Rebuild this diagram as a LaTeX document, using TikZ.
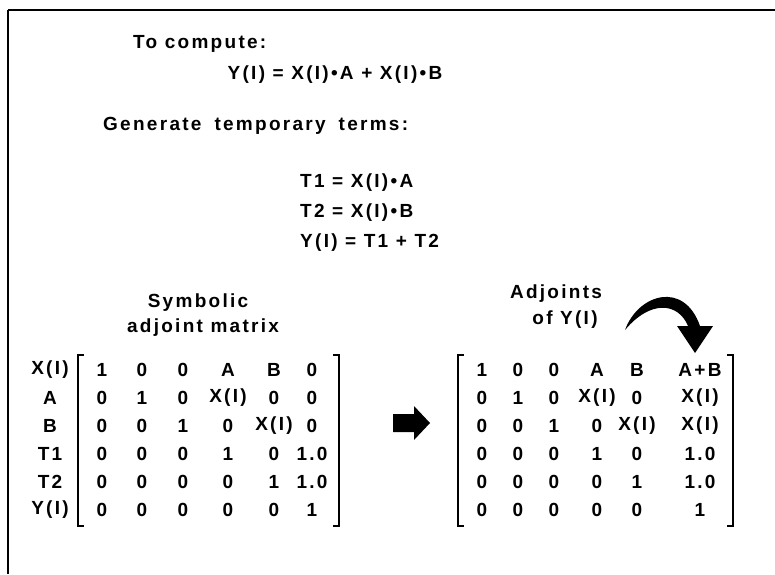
\documentclass[tikz,border=0pt]{standalone}
\usepackage{fontspec}
\setmainfont[LetterSpace=12]{Liberation Sans}
\usetikzlibrary{positioning}

\tikzset{
  lbl/.style={font=\fontsize{19}{21}\selectfont\bfseries, inner sep=0pt},
  cell/.style={lbl},
  brk/.style={line width=1.6pt},
}

\begin{document}
\begin{tikzpicture}[x=1pt,y=-1pt]
  \useasboundingbox (0,0) rectangle (775,574);
  % frame: top rule and left rule only
  \draw[line width=2.6pt] (8,10) -- (775,10);
  \draw[line width=2.6pt] (8,10) -- (8,574);

  % the expression and its temporaries
  \node[lbl, anchor=west] (compute) at (133,44) {To compute:};
  \node[lbl] (expr) at (335,75) {Y(I) = X(I)•A + X(I)•B};
  \node[lbl, anchor=west] (gen) at (103,126)
    {Generate\hspace{13pt}temporary\hspace{13pt}terms:};
  \node[lbl, anchor=west] (t1) at (300,183) {T1 = X(I)•A};
  \node[lbl, anchor=west] (t2) at (300,213) {T2 = X(I)•B};
  \node[lbl, anchor=west] (yi) at (300,243) {Y(I) = T1 + T2};

  % captions
  \node[lbl] (sym) at (198,303) {Symbolic};
  \node[lbl] (adjm) at (203,328) {adjoint matrix};
  \node[lbl] (adjs) at (556,294) {Adjoints};
  \node[lbl] (ofy) at (565,320) {of Y(I)};

  % row labels
  \foreach \lab [count=\r] in {X(I),A,B,T1,T2,Y(I)}
    \node[cell] (row\r) at (50,342+28*\r) {\lab};

  % left matrix
  \foreach \row [count=\r] in {
      {1,0,0,A,B,0},
      {0,1,0,X(I),0,0},
      {0,0,1,0,X(I),0},
      {0,0,0,1,0,1.0},
      {0,0,0,0,1,1.0},
      {0,0,0,0,0,1}}
    \foreach \v [count=\c] in \row {
      \pgfmathsetmacro\xx{{102,142,183,228,274,312}[\c-1]}
      \node[cell] (l-\r-\c) at (\xx,342+28*\r) {\v};
    }
  \draw[brk] (84,355) -- (78,355) -- (78,526) -- (84,526);
  \draw[brk] (333,355) -- (339,355) -- (339,526) -- (333,526);

  % right matrix
  \foreach \row [count=\r] in {
      {1,0,0,A,B,A+B},
      {0,1,0,X(I),0,X(I)},
      {0,0,1,0,X(I),X(I)},
      {0,0,0,1,0,1.0},
      {0,0,0,0,1,1.0},
      {0,0,0,0,0,1}}
    \foreach \v [count=\c] in \row {
      \pgfmathsetmacro\xx{{482,518,554,597,637,700}[\c-1]}
      \node[cell] (r-\r-\c) at (\xx,342+28*\r) {\v};
    }
  \draw[brk] (464,355) -- (458,355) -- (458,526) -- (464,526);
  \draw[brk] (727,355) -- (733,355) -- (733,526) -- (727,526);

  % block arrow between the matrices
  \fill (393,414) -- (414,414) -- (414,406) -- (430,423) -- (414,440)
    -- (414,432) -- (393,432) -- cycle;

  % curved arrow onto the last column
  \fill (625,330) .. controls (638,294) and (684,280) .. (700,326)
    -- (713,326) -- (695,353) -- (677,326) -- (688,326)
    .. controls (678,302) and (650,300) .. cycle;
\end{tikzpicture}
\end{document}
